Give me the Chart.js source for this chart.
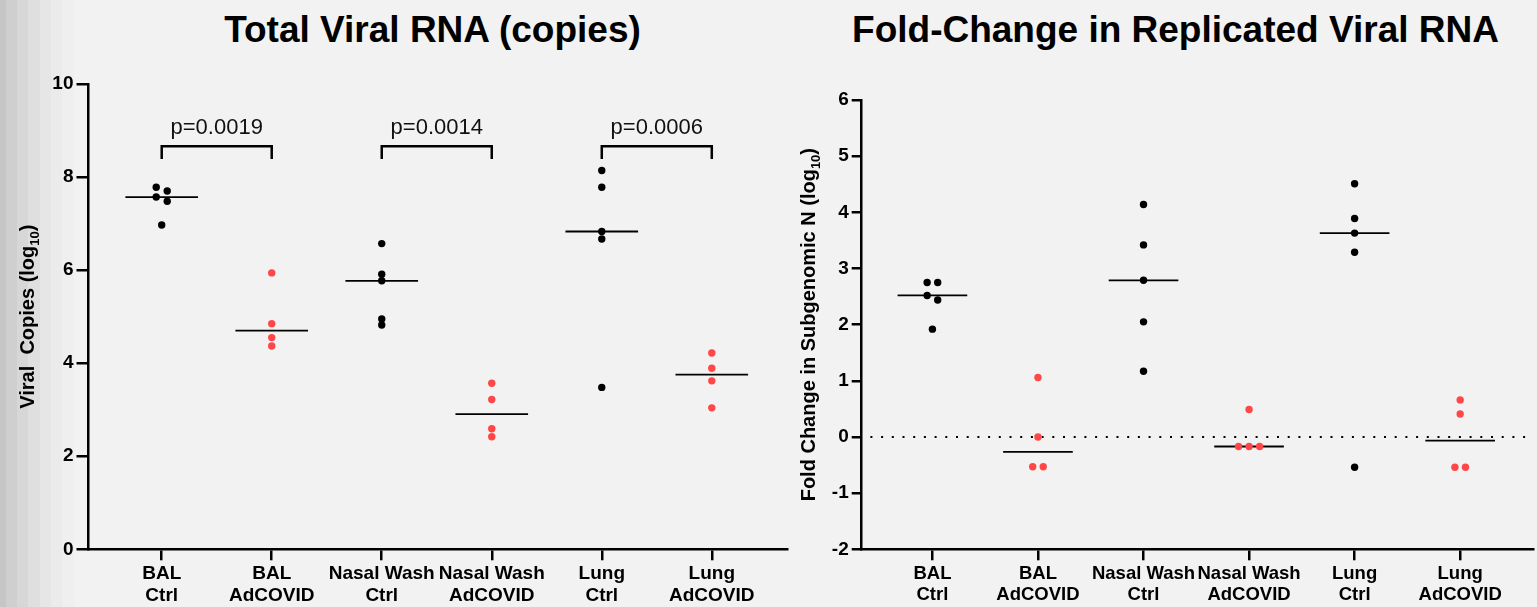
<!DOCTYPE html>
<html>
<head>
<meta charset="utf-8">
<script src="https://cdn.jsdelivr.net/npm/chart.js@4.4.1/dist/chart.umd.min.js"></script>
<style>
    html, body { margin: 0; padding: 0; }
    body {
        width: 1537px; height: 607px; overflow: hidden; position: relative;
        font-family: Arial, "Liberation Sans", sans-serif;
        background: linear-gradient(to right,
            #c6c6c6 0, #c6c6c6 6px, #cfcfcf 6px, #cfcfcf 17px, #d7d7d7 17px, #d7d7d7 28px,
            #dfdfdf 28px, #dfdfdf 40px, #e6e6e6 40px, #e6e6e6 51px, #ebebeb 51px, #ebebeb 62px,
            #efefef 62px, #efefef 74px, #f2f2f2 74px);
    }
    .title {
        position: absolute; top: 11px; font-weight: bold; font-size: 37px; line-height: 37px;
        text-align: center; color: #000; white-space: nowrap;
    }
    canvas { position: absolute; top: 0; }
</style>
</head>
<body>
<div class="title" style="left:0; width:865px;">Total Viral RNA (copies)</div>
<div class="title" style="left:814px; width:723px;">Fold-Change in Replicated Viral RNA</div>
<canvas id="totalChart" width="800" height="607" style="left:0"></canvas>
<canvas id="foldChart" width="757" height="607" style="left:780px"></canvas>
<script>
const FONT = 'Arial, "Liberation Sans", sans-serif';
const RED = '#ff4747';

// Groups along the x axis
const groupLabels = [['BAL', 'Ctrl'], ['BAL', 'AdCOVID'], ['Nasal Wash', 'Ctrl'], ['Nasal Wash', 'AdCOVID'], ['Lung', 'Ctrl'], ['Lung', 'AdCOVID']];
const groupIsVaccine = [false, true, false, true, false, true];

// Total viral RNA, log10 copies
const totalBalCtrl = [7.78, 7.70, 7.57, 7.48, 6.97];
const totalBalAd = [5.94, 4.85, 4.55, 4.37];
const totalNasalCtrl = [6.57, 5.91, 5.77, 4.95, 4.82];
const totalNasalAd = [3.57, 3.22, 2.59, 2.42];
const totalLungCtrl = [8.14, 7.78, 6.83, 6.67, 3.48];
const totalLungAd = [4.22, 3.89, 3.62, 3.04];
const totalYTicks = [0, 2, 4, 6, 8, 10];

// Fold change in subgenomic N, log10
const foldBalCtrl = [2.75, 2.75, 2.52, 2.44, 1.92];
const foldBalAd = [1.06, 0.0, -0.53, -0.53];
const foldNasalCtrl = [4.14, 3.42, 2.79, 2.05, 1.17];
const foldNasalAd = [0.49, -0.17, -0.17, -0.17];
const foldLungCtrl = [4.51, 3.89, 3.63, 3.29, -0.54];
const foldLungAd = [0.66, 0.41, -0.54, -0.54];
const foldYTicks = [-2, -1, 0, 1, 2, 3, 4, 5, 6];

// Significance brackets on the total RNA panel
const comparePairs = [[0, 1], [2, 3], [4, 5]];
const pLabels = ['p=0.0019', 'p=0.0014', 'p=0.0006'];

Chart.defaults.font.family = FONT;

// spread points that sit on nearly the same value side by side, like a column scatter
function spread(values, rowTol) {
    const sorted = [...values].sort((a, b) => b - a);
    const rows = [];
    sorted.forEach(v => {
        const row = rows[rows.length - 1];
        if (row && row[0] - v < rowTol) row.push(v);
        else rows.push([v]);
    });
    const pts = [];
    rows.forEach(row => row.forEach((v, k) => pts.push({ dx: (k - (row.length - 1) / 2) * 0.1, y: v })));
    return pts;
}

function median(values) {
    const s = [...values].sort((a, b) => a - b);
    const m = Math.floor(s.length / 2);
    return s.length % 2 ? s[m] : (s[m - 1] + s[m]) / 2;
}

function buildDatasets(groups, rowTol) {
    const sets = [];
    groups.forEach((vals, i) => {
        const color = groupIsVaccine[i] ? RED : '#000';
        sets.push({
            data: spread(vals, rowTol).map(p => ({ x: i + p.dx, y: p.y })),
            pointRadius: 3.7, pointBackgroundColor: color, pointBorderWidth: 0, order: 1
        });
        const m = median(vals);
        sets.push({
            data: [{ x: i - 0.33, y: m }, { x: i + 0.33, y: m }],
            showLine: true, borderColor: '#000', borderWidth: 1.8, pointRadius: 0, order: 2
        });
    });
    return sets;
}

// rotated y title with a subscript "10"
const yTitlePlugin = {
    id: 'yTitle',
    afterDraw(chart, args, opts) {
        const { ctx, chartArea } = chart;
        const cy = (chartArea.top + chartArea.bottom) / 2;
        const big = `bold ${opts.size}px ${FONT}`;
        const small = `bold ${Math.round(opts.size * 0.65)}px ${FONT}`;
        ctx.save();
        ctx.translate(opts.x, cy);
        ctx.rotate(-Math.PI / 2);
        ctx.fillStyle = '#000';
        ctx.textBaseline = 'alphabetic';
        ctx.font = big;
        const w1 = ctx.measureText(opts.before).width;
        const w3 = ctx.measureText(')').width;
        ctx.font = small;
        const w2 = ctx.measureText('10').width;
        let x = -(w1 + w2 + w3) / 2;
        const base = opts.size * 0.36;
        ctx.font = big; ctx.fillText(opts.before, x, base); x += w1;
        ctx.font = small; ctx.fillText('10', x, base + opts.size * 0.25); x += w2;
        ctx.font = big; ctx.fillText(')', x, base);
        ctx.restore();
    }
};

const bracketPlugin = {
    id: 'brackets',
    afterDatasetsDraw(chart, args, opts) {
        if (!opts.pairs) return;
        const { ctx, scales: { x, y } } = chart;
        ctx.save();
        ctx.strokeStyle = '#000';
        ctx.lineWidth = 2.5;
        ctx.fillStyle = '#111';
        ctx.font = `22px ${FONT}`;
        ctx.textAlign = 'center';
        ctx.textBaseline = 'alphabetic';
        opts.pairs.forEach(([a, b], k) => {
            const x1 = x.getPixelForValue(a), x2 = x.getPixelForValue(b);
            const yt = y.getPixelForValue(opts.level), yb = y.getPixelForValue(opts.level - opts.drop);
            ctx.beginPath();
            ctx.moveTo(x1, yb); ctx.lineTo(x1, yt); ctx.lineTo(x2, yt); ctx.lineTo(x2, yb);
            ctx.stroke();
            ctx.fillText(opts.labels[k], (x1 + x2) / 2, y.getPixelForValue(opts.textLevel));
        });
        ctx.restore();
    }
};

const zeroLinePlugin = {
    id: 'zeroLine',
    beforeDatasetsDraw(chart, args, opts) {
        if (!opts.show) return;
        const { ctx, chartArea, scales: { y } } = chart;
        const py = y.getPixelForValue(0);
        ctx.save();
        ctx.strokeStyle = '#000';
        ctx.lineWidth = 2;
        ctx.setLineDash([2, 8.7]);
        ctx.lineDashOffset = 2;
        ctx.beginPath();
        ctx.moveTo(chartArea.left, py);
        ctx.lineTo(chartArea.right, py);
        ctx.stroke();
        ctx.restore();
    }
};

function makeChart(id, groups, cfg) {
    const axisFont = { family: FONT, weight: 'bold' };
    return new Chart(document.getElementById(id), {
        type: 'scatter',
        data: { datasets: buildDatasets(groups, cfg.rowTol) },
        plugins: [yTitlePlugin, bracketPlugin, zeroLinePlugin],
        options: {
            responsive: false,
            animation: false,
            devicePixelRatio: 1,
            layout: { padding: { top: cfg.top, right: cfg.right, left: 0, bottom: 0 } },
            plugins: {
                legend: { display: false },
                tooltip: { enabled: false },
                yTitle: cfg.yTitle,
                brackets: cfg.brackets || {},
                zeroLine: { show: !!cfg.zeroLine }
            },
            scales: {
                x: {
                    type: 'linear', min: -0.67, max: 5.69,
                    afterBuildTicks: s => { s.ticks = groupLabels.map((_, i) => ({ value: i })); },
                    afterFit: s => { s.height = 57.7; },
                    ticks: {
                        callback: v => groupLabels[v],
                        color: '#000', padding: 3, autoSkip: false, maxRotation: 0, minRotation: 0,
                        font: { ...axisFont, size: cfg.xFont, lineHeight: 1.14 }
                    },
                    grid: { drawOnChartArea: false, drawTicks: true, tickLength: 11, tickWidth: 2.5, tickColor: '#000', lineWidth: 2.5, color: '#000' },
                    border: { display: true, color: '#000', width: 2.5 }
                },
                y: {
                    min: cfg.yTicks[0], max: cfg.yTicks[cfg.yTicks.length - 1],
                    afterBuildTicks: s => { s.ticks = cfg.yTicks.map(v => ({ value: v })); },
                    afterFit: s => { s.width = cfg.yWidth; },
                    ticks: { color: '#000', padding: 3, font: { ...axisFont, size: 19 } },
                    grid: { drawOnChartArea: false, drawTicks: true, tickLength: cfg.tickLen, tickWidth: 2.5, tickColor: '#000', lineWidth: 2.5, color: '#000' },
                    border: { display: true, color: '#000', width: 2.5 }
                }
            }
        }
    });
}

makeChart('totalChart',
    [totalBalCtrl, totalBalAd, totalNasalCtrl, totalNasalAd, totalLungCtrl, totalLungAd], {
    rowTol: 0.115, top: 84, right: 12.3, yWidth: 88, tickLen: 11.5, yTicks: totalYTicks, xFont: 19,
    yTitle: { before: 'Viral  Copies (log', x: 27, size: 20 },
    brackets: { pairs: comparePairs, labels: pLabels, level: 8.66, drop: 0.27, textLevel: 8.92 }
});

makeChart('foldChart',
    [foldBalCtrl, foldBalAd, foldNasalCtrl, foldNasalAd, foldLungCtrl, foldLungAd], {
    rowTol: 0.1, top: 100, right: 0, yWidth: 81.7, tickLen: 10, yTicks: foldYTicks, xFont: 18.5,
    yTitle: { before: 'Fold Change in Subgenomic N (log', x: 28, size: 20 },
    zeroLine: true
});
</script>
</body>
</html>
